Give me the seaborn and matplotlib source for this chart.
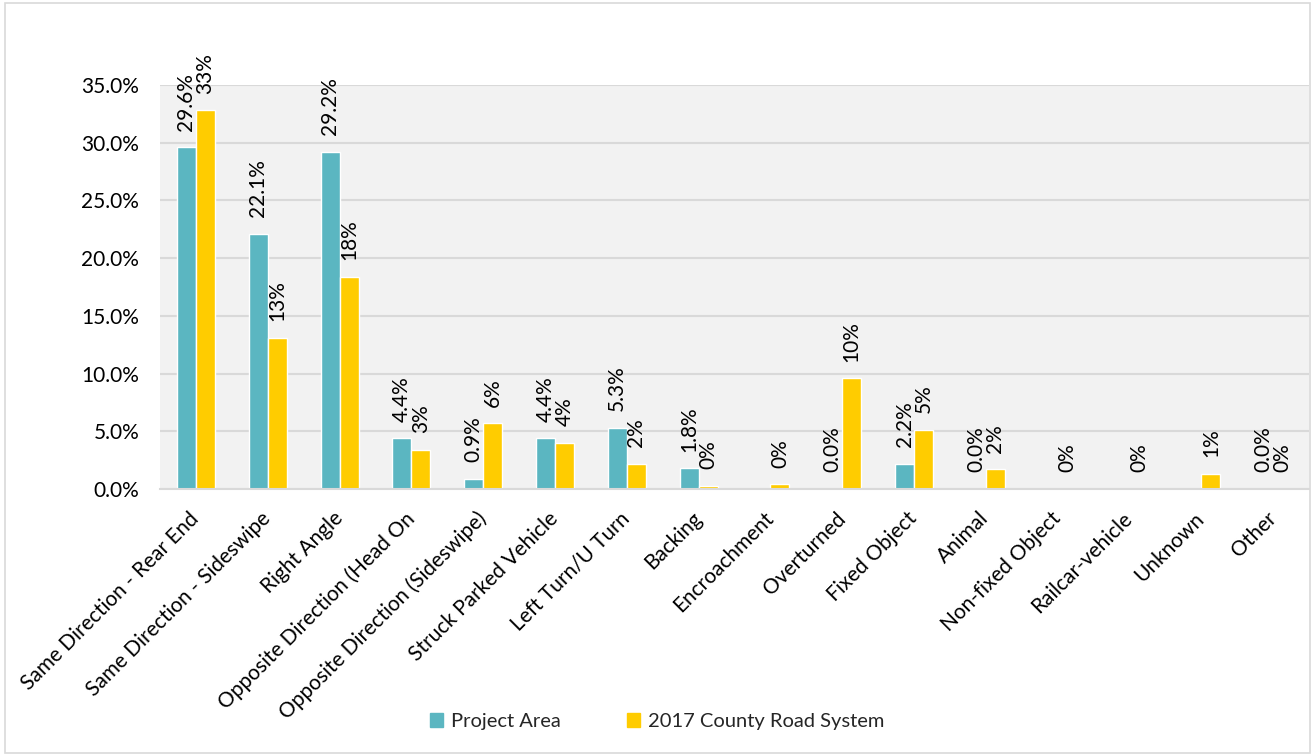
import numpy as np
import pandas as pd
import seaborn as sns
import matplotlib.pyplot as plt
from matplotlib.patches import Rectangle
from matplotlib.ticker import PercentFormatter

categories = [
    "Same Direction - Rear End", "Same Direction - Sideswipe", "Right Angle",
    "Opposite Direction (Head On", "Opposite Direction (Sideswipe)",
    "Struck Parked Vehicle", "Left Turn/U Turn", "Backing", "Encroachment",
    "Overturned", "Fixed Object", "Animal", "Non-fixed Object",
    "Railcar-vehicle", "Unknown", "Other",
]
project_area = [0.296, 0.221, 0.292, 0.044, 0.009, 0.044, 0.053, 0.018, np.nan,
                0.000, 0.022, 0.000, np.nan, np.nan, np.nan, 0.000]
county_system = [0.328, 0.131, 0.184, 0.034, 0.057, 0.040, 0.022, 0.003, 0.004,
                 0.096, 0.051, 0.017, 0.000, 0.000, 0.013, 0.000]
series_names = ["Project Area", "2017 County Road System"]
colors = ["#5BB6C1", "#FFCC00"]
label_formats = ["{:.1%}", "{:.0%}"]

df = pd.concat([
    pd.DataFrame({"Category": categories, "Share": project_area, "Series": series_names[0]}),
    pd.DataFrame({"Category": categories, "Share": county_system, "Series": series_names[1]}),
]).dropna()

sns.set_theme(style="white")
plt.rcParams["font.family"] = ["Lato", "DejaVu Sans"]
FS = 15

fig = plt.figure(figsize=(13.14, 7.55), dpi=100)
ax = fig.add_axes([0.1218, 0.3523, 0.8744, 0.5351])

sns.barplot(data=df, x="Category", y="Share", hue="Series", order=categories,
            hue_order=series_names, palette=colors, width=0.53, gap=0,
            saturation=1, ax=ax, legend=True)

for cont, fmt in zip(ax.containers, label_formats):
    labels = [fmt.format(b.get_height()) for b in cont]
    ax.bar_label(cont, labels=labels, rotation=90, padding=12, fontsize=FS,
                 color="#000000", clip_on=False)

ax.set_facecolor("#F2F2F2")
ax.set_ylim(0, 0.35)
ax.set_yticks(np.arange(0, 0.351, 0.05))
ax.yaxis.set_major_formatter(PercentFormatter(1.0, decimals=1))
ax.grid(axis="y", color="#D9D9D9", linewidth=1.5)
ax.set_axisbelow(True)
for side in ["top", "right", "left"]:
    ax.spines[side].set_visible(False)
ax.spines["bottom"].set_color("#D9D9D9")
ax.spines["bottom"].set_linewidth(1.5)
ax.set_xlabel("")
ax.set_ylabel("")
ax.tick_params(axis="y", length=0, pad=15, labelsize=FS, labelcolor="#000000")
ax.tick_params(axis="x", length=0, pad=19, labelsize=FS, labelcolor="#000000")
for lab in ax.get_xticklabels():
    lab.set_rotation(45)
    lab.set_ha("right")
    lab.set_va("center")
    lab.set_rotation_mode("anchor")

ax.get_legend().remove()
handles = [Rectangle((0, 0), 1, 1, color=c) for c in colors]
fig.legend(handles, series_names, loc="center", bbox_to_anchor=(0.5, 0.044),
           ncol=2, frameon=False, fontsize=14.5, handlelength=0.65,
           handleheight=0.65, handletextpad=0.4, columnspacing=3.3)

fig.patches.append(Rectangle((5 / 1314, 2 / 755), 1305 / 1314, 750 / 755,
                             transform=fig.transFigure, fill=False,
                             edgecolor="#D9D9D9", linewidth=1.2))

fig.savefig("out.png", dpi=100)
